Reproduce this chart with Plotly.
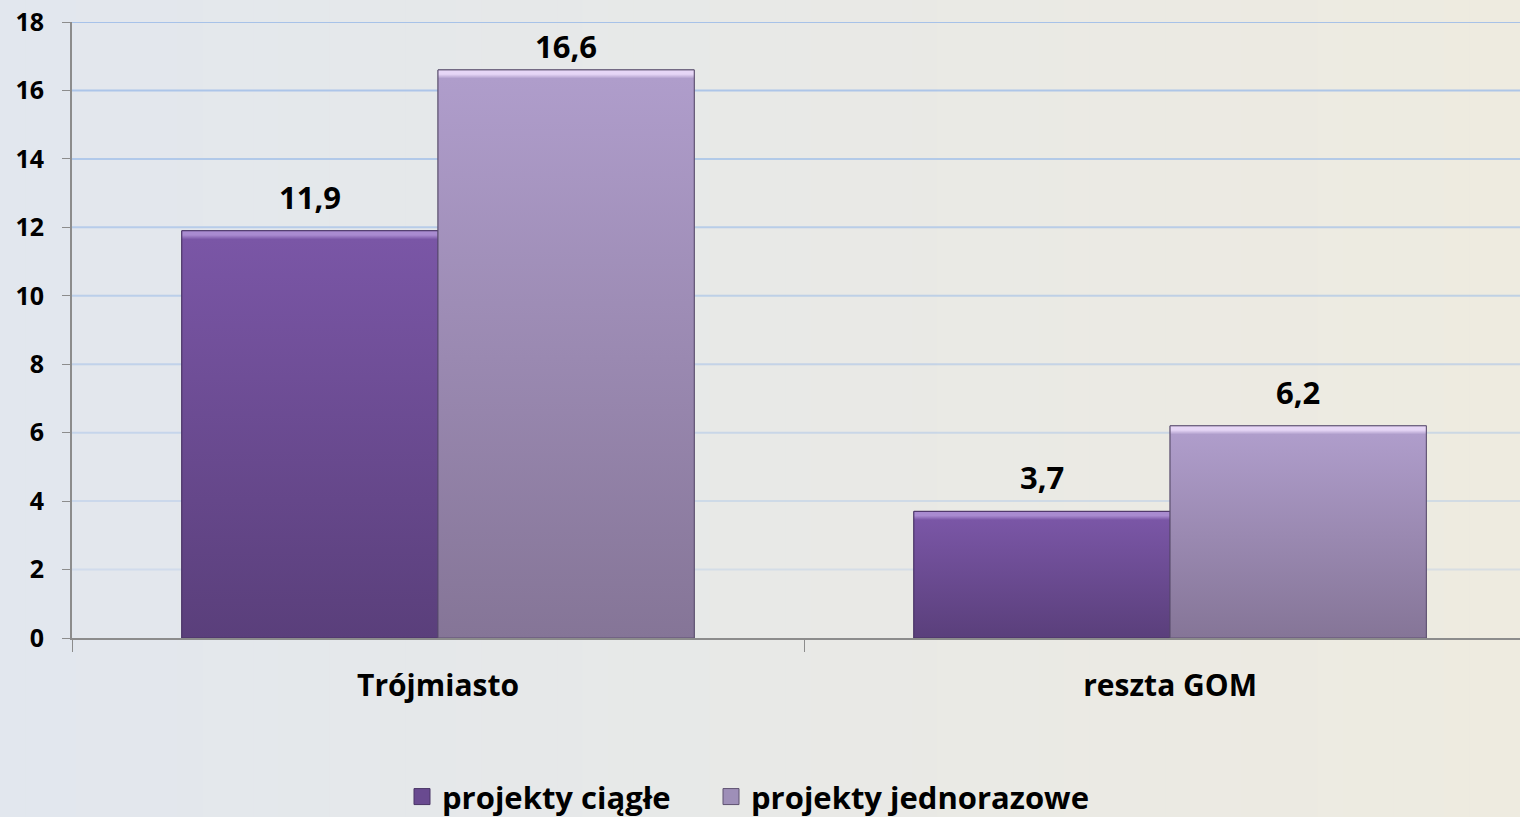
import plotly.graph_objects as go

categories = ["Trójmiasto", "reszta GOM"]
series_names = ["projekty ciągłe", "projekty jednorazowe"]
ciagle = [11.9, 3.7]
jednorazowe = [16.6, 6.2]
y_ticks = [0, 2, 4, 6, 8, 10, 12, 14, 16, 18]

W, H = 1520, 817
ML, MR, MT, MB = 72, 0, 22, 179
FONT = "Open Sans"
BARGAP = 0.30
XRANGE = [-0.5, 1.478]
YMAX = 18

# style per series: (bottom, top, highlight, mid, edge)
styles = [
    ("#5a3f7b", "#7a56a6", "#a98bd0", "#694a90", "#4a3566"),
    ("#857597", "#af9dcb", "#e6d6f6", "#9e8fb8", "#5e5270"),
]
series_values = [ciagle, jednorazowe]
legend_left_px = [402, 711]
ph = H - MT - MB
pw = W - ML - MR
px_per_unit = ph / YMAX

fig = go.Figure()
for j, (name, vals) in enumerate(zip(series_names, series_values)):
    bottom, top, hi, mid, edge = styles[j]
    fig.add_trace(go.Bar(
        x=categories, y=vals, name=name, showlegend=False,
        marker=dict(color=mid, line=dict(color=edge, width=1)),
    ))

# gradient overlays on a numeric twin axis, derived from the same values
bw = (1 - BARGAP) / 2
annotations = []
for j, vals in enumerate(series_values):
    bottom, top, hi, mid, edge = styles[j]
    for i, v in enumerate(vals):
        l = i - bw + bw * j
        r = l + bw
        h = min(0.25 / v, 0.2)
        fig.add_trace(go.Scatter(
            x=[l, r, r, l, l], y=[0, 0, v, v, 0], xaxis="x2",
            mode="lines", fill="toself",
            line=dict(color=edge, width=1),
            fillgradient=dict(type="vertical", colorscale=[
                [0, bottom], [1 - h, top], [1 - h * 0.5, hi], [1, hi]]),
            showlegend=False, hoverinfo="skip",
        ))
        shift = min(34, (YMAX - v) * px_per_unit - 24)
        annotations.append(dict(
            x=(l + r) / 2, y=v, xref="x2", yref="y",
            text=("%.1f" % v).replace(".", ","), showarrow=False,
            yshift=shift, yanchor="middle",
            font=dict(family=FONT, size=31, color="#000000", weight="bold"),
        ))

# legend entries, one legend box each
legend_keys = ["legend", "legend2"]
for j, name in enumerate(series_names):
    bottom, top, hi, mid, edge = styles[j]
    fig.add_trace(go.Scatter(
        x=[None], y=[None], mode="markers", name=name, legend=legend_keys[j],
        marker=dict(symbol="square", size=18, color=mid, line=dict(color=edge, width=1)),
    ))

# background gradient strips (paper coordinates spanning whole figure)
n = 60
c0 = (226, 231, 238)
c1 = (238, 235, 224)
shapes = []
for i in range(n):
    p0 = i * W / n
    p1 = (i + 1) * W / n + 1
    t = i / (n - 1)
    col = tuple(round(c0[k] + (c1[k] - c0[k]) * t) for k in range(3))
    shapes.append(dict(
        type="rect", xref="paper", yref="paper",
        x0=(p0 - ML) / pw, x1=(p1 - ML) / pw,
        y0=-MB / ph - 0.01, y1=1 + MT / ph + 0.01,
        fillcolor="rgb(%d,%d,%d)" % col, line=dict(width=0), layer="below",
    ))
# gridlines fading toward the bottom
for tv in y_ticks[1:]:
    a = 0.2 + 0.7 * tv / YMAX
    shapes.append(dict(
        type="line", xref="paper", yref="y", x0=0, x1=1, y0=tv, y1=tv,
        line=dict(color="rgba(160,190,232,%.3f)" % a, width=2), layer="below",
    ))

legend_common = dict(
    orientation="h", xanchor="left", y=-0.258, yanchor="middle",
    font=dict(family=FONT, size=31, weight="bold"),
    bgcolor="rgba(0,0,0,0)", itemwidth=30,
)

fig.update_layout(
    width=W, height=H,
    margin=dict(l=ML, r=MR, t=MT, b=MB, autoexpand=False),
    paper_bgcolor="#e8e9e7", plot_bgcolor="rgba(0,0,0,0)",
    barmode="group", bargap=BARGAP, bargroupgap=0,
    separators=",.",
    shapes=shapes,
    annotations=annotations,
    font=dict(family=FONT, color="#000000"),
    showlegend=True,
    legend=dict(x=(legend_left_px[0] - ML) / pw, **legend_common),
    legend2=dict(x=(legend_left_px[1] - ML) / pw, **legend_common),
    xaxis=dict(
        range=XRANGE, showgrid=False,
        showline=True, linecolor="#8c8c8c", linewidth=2,
        ticks="outside", tickson="boundaries", ticklen=12, tickcolor="#8c8c8c",
        tickfont=dict(family=FONT, size=30, weight="bold"),
        ticklabelstandoff=20,
    ),
    xaxis2=dict(
        overlaying="x", range=XRANGE, visible=False, showgrid=False, zeroline=False,
    ),
    yaxis=dict(
        range=[0, YMAX], tickvals=y_ticks,
        showgrid=False,
        showline=True, linecolor="#8c8c8c", linewidth=2,
        ticks="outside", ticklen=8, tickcolor="#8c8c8c",
        tickfont=dict(family=FONT, size=25, weight="bold"),
        ticklabelstandoff=13, zeroline=False,
    ),
)
fig.write_html(
    "out.html",
    config={"displayModeBar": False},
    post_script="document.body.style.margin='0';document.body.style.overflow='hidden';",
)
